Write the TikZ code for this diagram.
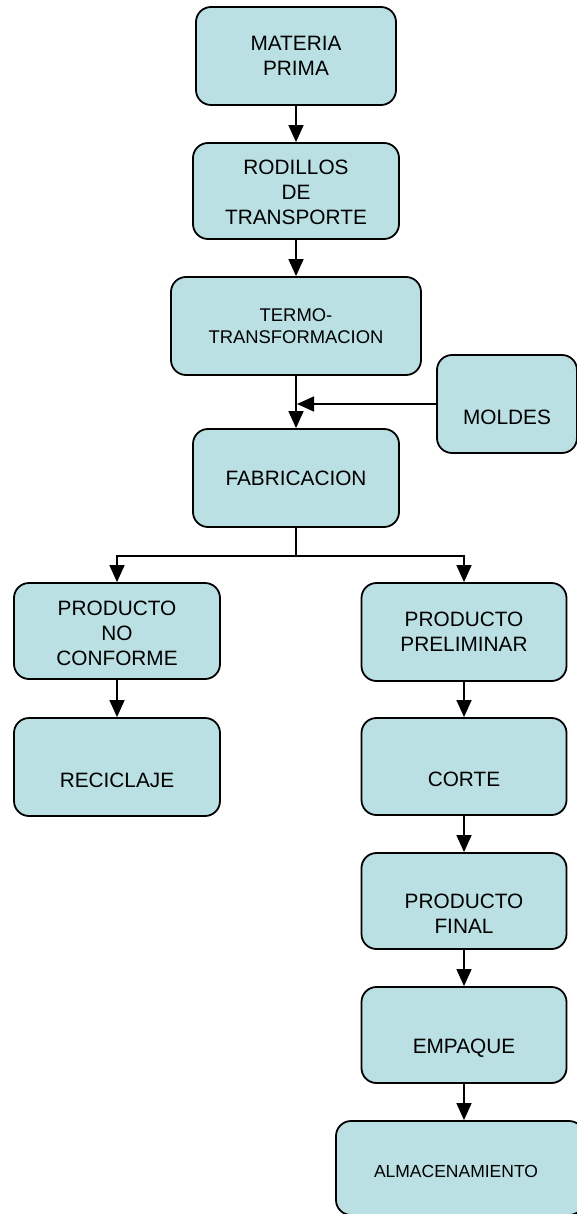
\documentclass[tikz,border=0pt]{standalone}
\usepackage{fontspec}
\setmainfont{Liberation Sans}
\usetikzlibrary{arrows.meta}
\definecolor{boxfill}{HTML}{BAE0E3}
\tikzset{
  x=1pt, y=-1pt,
  box/.style={draw=black, line width=1.8pt, fill=boxfill, rounded corners=15pt, inner sep=0pt},
  txt/.style={align=center, font=\fontsize{20.8}{25}\selectfont, inner sep=0pt},
  smalltxt/.style={align=center, font=\fontsize{18.4}{22}\selectfont, inner sep=0pt},
  tinytxt/.style={align=center, font=\fontsize{17.5}{21}\selectfont, inner sep=0pt},
  conn/.style={line width=1.5pt, -{Triangle[length=17pt,width=15pt]}},
  plain/.style={line width=1.5pt}
}
\begin{document}
\begin{tikzpicture}
\useasboundingbox (0,0) rectangle (577,1214);
% boxes
\node[box, minimum width=200pt, minimum height=98pt, label={[txt]center:MATERIA\\PRIMA}] (mp) at (296,56) {};
\node[box, minimum width=206pt, minimum height=96pt, label={[txt,yshift=-1pt]center:RODILLOS\\DE\\TRANSPORTE}] (rod) at (296,191) {};
\node[box, minimum width=250pt, minimum height=98pt, label={[smalltxt]center:TERMO-\\TRANSFORMACION}] (termo) at (296,326) {};
\node[box, minimum width=140pt, minimum height=98pt, label={[txt,yshift=-13pt]center:MOLDES}] (moldes) at (507,404) {};
\node[box, minimum width=206pt, minimum height=98pt, label={[txt]center:FABRICACION}] (fab) at (296,478) {};
\node[box, minimum width=206pt, minimum height=96pt, label={[txt,yshift=-2pt]center:PRODUCTO\\NO\\CONFORME}] (pnc) at (117,631) {};
\node[box, minimum width=206pt, minimum height=98pt, label={[txt,yshift=-13pt]center:RECICLAJE}] (rec) at (117,767) {};
\node[box, minimum width=205pt, minimum height=98pt, label={[txt]center:PRODUCTO\\PRELIMINAR}] (pp) at (464,632) {};
\node[box, minimum width=205pt, minimum height=97pt, label={[txt,yshift=-13pt]center:CORTE}] (corte) at (464,766.5) {};
\node[box, minimum width=205pt, minimum height=96pt, label={[txt,yshift=-13pt]center:PRODUCTO\\FINAL}] (pf) at (464,901) {};
\node[box, minimum width=205pt, minimum height=96pt, label={[txt,yshift=-13pt]center:EMPAQUE}] (emp) at (464,1035) {};
\node[box, minimum width=248pt, minimum height=94pt, label={[tinytxt,xshift=-4pt,yshift=-3pt]center:ALMACENAMIENTO}] (alm) at (460,1168) {};
% connectors
\draw[conn] (mp.south) -- (rod.north);
\draw[conn] (rod.south) -- (termo.north);
\draw[conn] (termo.south) -- (fab.north);
\coordinate (mjoin) at (termo.south |- moldes.west);
\draw[conn] (moldes.west) -- ([xshift=1pt]mjoin);
\coordinate (split) at ([yshift=-28pt]fab.south);
\draw[plain] (fab.south) -- (split);
\draw[conn] (split) -| (pnc.north);
\draw[conn] (split) -| (pp.north);
\draw[conn] (pnc.south) -- (rec.north);
\draw[conn] (pp.south) -- (corte.north);
\draw[conn] (corte.south) -- (pf.north);
\draw[conn] (pf.south) -- (emp.north);
\draw[conn] (emp.south) -- (emp.south |- alm.north);
\end{tikzpicture}
\end{document}
